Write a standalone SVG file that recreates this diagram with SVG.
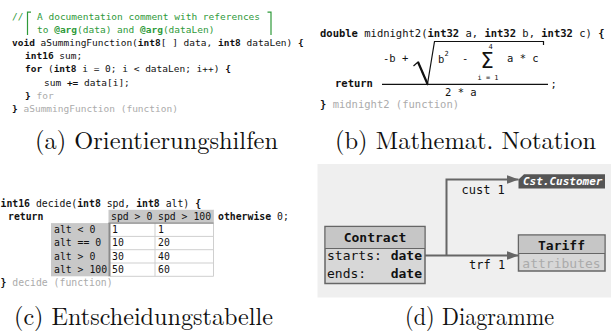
<svg xmlns="http://www.w3.org/2000/svg" width="611" height="336" viewBox="0 0 611 336">
<style>
.code{font-family:"DejaVu Sans Mono","Liberation Mono",monospace;fill:#111;}
.a{font-size:9.5px;}
.b{font-size:10.5px;}
.c{font-size:9.8px;}
.d{font-size:13px;}
.lbl{font-size:12px;}
.sm{font-size:7px;}
.k{font-weight:bold;}
.g{fill:#2f9a3a;}
.gr{fill:#ababab;}
.cap{font-family:"Latin Modern Roman","Liberation Serif","DejaVu Serif",serif;font-size:25px;fill:#111;text-anchor:middle;}
.br{fill:none;stroke:#2f9a3a;stroke-width:1.2;}
.node{stroke:#666;stroke-width:1.5;}
.hdr{fill:#c6c6c6;}
.body{fill:#d7d7d7;}
.conn{fill:none;stroke:#666;stroke-width:2;}
.grid{fill:none;stroke:#cfcfcf;stroke-width:1;}
</style>
<defs>
<marker id="arr" markerUnits="userSpaceOnUse" markerWidth="12" markerHeight="10" refX="12" refY="5" orient="auto">
<path d="M0,0.5 L12,5 L0,9.5 Z" fill="#666"/>
</marker>
</defs>
<rect width="611" height="336" fill="#fff"/>

<!-- (a) -->
<g id="panel-a" xml:space="preserve">
<text class="code a g" x="12" y="19.6">//</text>
<path class="br" d="M31,12.2 H27.5 V35"/>
<path class="br" d="M267.5,12.2 H271 V35"/>
<text class="code a g" x="37" y="19.6">A documentation comment with references</text>
<text class="code a g" x="37" y="32.8">to <tspan class="k">@arg</tspan>(data) and <tspan class="k">@arg</tspan>(dataLen)</text>
<text class="code a" x="12" y="46"><tspan class="k">void</tspan> aSummingFunction(<tspan class="k">int8</tspan>[ ] data, <tspan class="k">int8</tspan> dataLen) <tspan class="k">{</tspan></text>
<text class="code a" x="25" y="59.2"><tspan class="k">int16</tspan> sum;</text>
<text class="code a" x="25" y="72.4"><tspan class="k">for</tspan> (<tspan class="k">int8</tspan> i = 0; i &lt; dataLen; i++) <tspan class="k">{</tspan></text>
<text class="code a" x="44" y="85.6">sum <tspan class="k">+=</tspan> data[i];</text>
<text class="code a" x="25" y="98.8"><tspan class="k">}</tspan> <tspan class="gr">for</tspan></text>
<text class="code a" x="12" y="112"><tspan class="k">}</tspan> <tspan class="gr">aSummingFunction (function)</tspan></text>
</g>
<text class="cap" x="156.5" y="149" textLength="243" lengthAdjust="spacingAndGlyphs">(a) Orientierungshilfen</text>

<!-- (b) -->
<g id="panel-b" xml:space="preserve">
<text class="code b" x="320" y="36.5"><tspan class="k">double</tspan> midnight2(<tspan class="k">int32</tspan> a, <tspan class="k">int32</tspan> b, <tspan class="k">int32</tspan> c) <tspan class="k">{</tspan></text>
<text class="code b" x="383" y="62">-b +</text>
<path d="M413.5,66 L418,62 L427.5,84 L434.5,41.5 H543.5 V45" fill="none" stroke="#111" stroke-width="1.2"/>
<path d="M418,62 L427.5,84" stroke="#111" stroke-width="2.2"/>
<text class="code b" x="438" y="62.5">b</text>
<text class="code sm" x="444.5" y="55.5">2</text>
<text class="code b" x="462" y="62">-</text>
<text x="480.5" y="68" style="font-family:'DejaVu Sans',sans-serif;font-size:21px;fill:#111">Σ</text>
<text class="code sm" x="488.5" y="48.5">4</text>
<text class="code sm" x="477.5" y="79.5">i = 1</text>
<text class="code b" x="507" y="62">a * c</text>
<text class="code b k" x="335" y="87">return</text>
<line x1="382" y1="84.3" x2="548" y2="84.3" stroke="#111" stroke-width="1.3"/>
<text class="code b" x="550.5" y="87.5">;</text>
<text class="code b" x="445" y="95.5">2 * a</text>
<text class="code b" x="320" y="107.5"><tspan class="k">}</tspan> <tspan class="gr">midnight2 (function)</tspan></text>
</g>
<text class="cap" x="465.5" y="149" textLength="261" lengthAdjust="spacingAndGlyphs">(b) Mathemat. Notation</text>

<!-- (c) -->
<g id="panel-c" xml:space="preserve">
<text class="code c" x="0.5" y="206.5"><tspan class="k">int16</tspan> decide(<tspan class="k">int8</tspan> spd, <tspan class="k">int8</tspan> alt) <tspan class="k">{</tspan></text>
<text class="code c k" x="8" y="219.8">return</text>
<rect x="108.5" y="209.8" width="105" height="13.3" fill="#c8c8c8"/>
<rect x="51" y="223.1" width="58.5" height="53.2" fill="#c8c8c8"/>
<rect x="110" y="223.1" width="103.5" height="53.2" fill="#fff"/>
<path class="grid" d="M110,236.4 H213.5 M110,249.7 H213.5 M110,263 H213.5 M110,276.3 H213.5 M155,223.1 V276.3 M213.5,209.8 V276.3"/>
<line x1="108.5" y1="223.1" x2="213.5" y2="223.1" stroke="#8a8a8a" stroke-width="1.2"/>
<line x1="109.5" y1="223.1" x2="109.5" y2="276.3" stroke="#8a8a8a" stroke-width="2"/>
<text class="code c" x="111" y="219.8">spd &gt; 0</text>
<text class="code c" x="158" y="219.8">spd &gt; 100</text>
<text class="code c" x="218" y="219.8"><tspan class="k">otherwise</tspan> 0;</text>
<text class="code c" x="54" y="232.9">alt &lt; 0</text>
<text class="code c" x="54" y="246.2">alt == 0</text>
<text class="code c" x="54" y="259.5">alt &gt; 0</text>
<text class="code c" x="54" y="272.8">alt &gt; 100</text>
<text class="code c" x="112" y="232.9">1</text>
<text class="code c" x="158" y="232.9">1</text>
<text class="code c" x="112" y="246.2">10</text>
<text class="code c" x="158" y="246.2">20</text>
<text class="code c" x="112" y="259.5">30</text>
<text class="code c" x="158" y="259.5">40</text>
<text class="code c" x="112" y="272.8">50</text>
<text class="code c" x="158" y="272.8">60</text>
<text class="code c" x="0.5" y="286.1"><tspan class="k">}</tspan> <tspan class="gr">decide (function)</tspan></text>
</g>
<text class="cap" x="143.5" y="325" textLength="259" lengthAdjust="spacingAndGlyphs">(c) Entscheidungstabelle</text>

<!-- (d) -->
<rect x="317.5" y="164" width="293.5" height="133.5" fill="#efefef"/>
<g id="connectors">
<path class="conn" d="M425,255.5 H518.5" marker-end="url(#arr)"/>
<path class="conn" d="M446.5,255.5 V179.5 H518.5" marker-end="url(#arr)"/>
<text class="code lbl" x="461.5" y="194">cust 1</text>
<text class="code lbl" x="469" y="269">trf 1</text>
</g>
<g id="node-contract">
<rect class="node body" x="325" y="226.5" width="100" height="57"/>
<rect class="hdr" x="325.75" y="227.25" width="98.5" height="21"/>
<line x1="325" y1="248.5" x2="425" y2="248.5" stroke="#666" stroke-width="1.2"/>
<text class="code d k" x="375" y="242" text-anchor="middle">Contract</text>
<text class="code d" x="327" y="259.5">starts:</text>
<text class="code d k" x="422" y="259.5" text-anchor="end">date</text>
<text class="code d" x="327" y="277.5">ends:</text>
<text class="code d k" x="422" y="277.5" text-anchor="end">date</text>
</g>
<g id="node-tariff">
<rect class="node body" x="518.5" y="235" width="86.5" height="36"/>
<rect class="hdr" x="519.25" y="235.75" width="85" height="17.5"/>
<line x1="518.5" y1="253.5" x2="605" y2="253.5" stroke="#666" stroke-width="1.2"/>
<text class="code d k" x="561.5" y="249.5" text-anchor="middle">Tariff</text>
<text class="code d gr" x="561.5" y="267.5" text-anchor="middle">attributes</text>
</g>
<g id="node-customer">
<polygon points="518.5,188.5 518.5,179.5 524,174.3 605,174.3 605,188.5" fill="#555"/>
<text class="code" x="523" y="185" style="font-size:11px;font-weight:bold;font-style:italic;fill:#fff">Cst.Customer</text>
</g>
<text class="cap" x="479.5" y="325" textLength="149" lengthAdjust="spacingAndGlyphs">(d) Diagramme</text>
</svg>
